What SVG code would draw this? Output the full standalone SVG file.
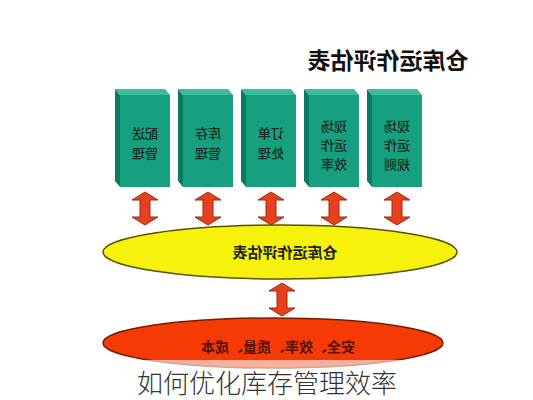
<svg xmlns="http://www.w3.org/2000/svg" width="533" height="400" viewBox="0 0 533 400">
<style>
.cjk{font-family:"Noto Sans CJK SC","Noto Sans",sans-serif}
.front{fill:#16a080}
.top{fill:#3cbb9c}
.side{fill:#0c7a60}
.box text{font-size:13px;fill:#1c2a24;text-anchor:middle;font-weight:500}
.arr{fill:#e8401c;stroke:#9a2a10;stroke-width:1}
</style>
<defs>
<path id="dbl" d="M0,0 L13,8 L5,8 L5,25 L13,25 L0,33 L-13,25 L-5,25 L-5,8 L-13,8 Z"/>
<g id="boxshape">
<polygon class="side" points="0,0 5,6 5,98 0,92"/>
<polygon class="top" points="0,0 50,0 55,6 5,6"/>
<rect class="front" x="5" y="6" width="50" height="92"/>
</g>
</defs>
<rect width="533" height="400" fill="#ffffff"/>
<text class="cjk" transform="translate(388,69) scale(-1,1)" text-anchor="middle" font-size="23" font-weight="bold" fill="#111">仓库运作评估表</text>
<g id="box1" class="box cjk">
<use href="#boxshape" x="115" y="89"/>
<text transform="translate(145,138) scale(-1,1)">配送</text>
<text transform="translate(145,158) scale(-1,1)">管理</text>
</g>
<g id="box2" class="box cjk">
<use href="#boxshape" x="178" y="89"/>
<text transform="translate(208,138) scale(-1,1)">库存</text>
<text transform="translate(208,158) scale(-1,1)">管理</text>
</g>
<g id="box3" class="box cjk">
<use href="#boxshape" x="241" y="89"/>
<text transform="translate(271,138) scale(-1,1)">订单</text>
<text transform="translate(271,158) scale(-1,1)">处理</text>
</g>
<g id="box4" class="box cjk">
<use href="#boxshape" x="304" y="89"/>
<text transform="translate(334,131) scale(-1,1)">现场</text>
<text transform="translate(334,150) scale(-1,1)">运作</text>
<text transform="translate(334,169) scale(-1,1)">效率</text>
</g>
<g id="box5" class="box cjk">
<use href="#boxshape" x="367" y="89"/>
<text transform="translate(397,131) scale(-1,1)">现场</text>
<text transform="translate(397,150) scale(-1,1)">运作</text>
<text transform="translate(397,169) scale(-1,1)">规则</text>
</g>
<g id="connectors">
<use href="#dbl" class="arr" x="145" y="192"/>
<use href="#dbl" class="arr" x="208" y="192"/>
<use href="#dbl" class="arr" x="271" y="192"/>
<use href="#dbl" class="arr" x="334" y="192"/>
<use href="#dbl" class="arr" x="397" y="192"/>
<use href="#dbl" class="arr" x="282" y="283"/>
</g>
<g id="eval">
<ellipse cx="280" cy="252" rx="177" ry="27" fill="#f7f20c" stroke="#5a5200" stroke-width="1.5"/>
<text class="cjk" transform="translate(285,258) scale(-1,1)" text-anchor="middle" font-size="15" font-weight="bold" fill="#222">仓库运作评估表</text>
</g>
<g id="goals">
<ellipse cx="273" cy="343" rx="170" ry="25" fill="#f53a06" stroke="#7a1a00" stroke-width="1.5"/>
<text class="cjk" transform="translate(278,352) scale(-1,1)" text-anchor="middle" font-size="14" font-weight="bold" fill="#5a1208">安全、效率、质量、成本</text>
</g>
<rect x="0" y="360" width="533" height="40" fill="#ffffff" fill-opacity="0.6"/>
<text class="cjk" x="267" y="393" text-anchor="middle" font-size="26" font-weight="300" fill="#333">如何优化库存管理效率</text>
</svg>
